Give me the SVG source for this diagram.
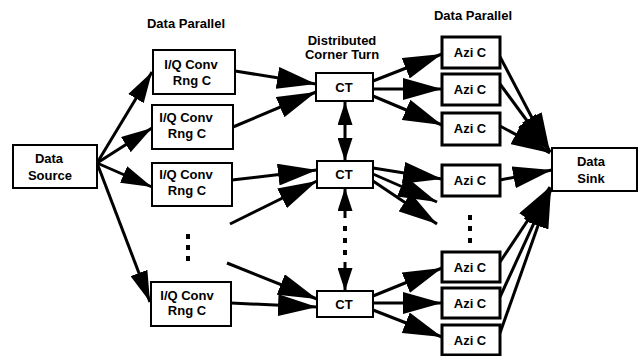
<svg xmlns="http://www.w3.org/2000/svg" width="639" height="356" viewBox="0 0 639 356">
<style>
.t{font-family:"Liberation Sans",Arial,sans-serif;font-weight:bold;font-size:13px;fill:#000;text-anchor:middle}
.b{fill:#fff;stroke:#000;stroke-width:2}
.az{fill:#fff;stroke:#000;stroke-width:3}
.c{stroke:#000;stroke-width:3;fill:none}
.cl{stroke:#000;stroke-width:3;fill:none;marker-end:url(#al)}
.cm{stroke:#000;stroke-width:3;fill:none;marker-end:url(#am)}
</style>
<defs>
<marker id="al" markerUnits="userSpaceOnUse" markerWidth="40" markerHeight="22" refX="39" refY="11" orient="auto"><path d="M0,0 L39,11 L0,22 z" fill="#000"/></marker>
<marker id="am" markerUnits="userSpaceOnUse" markerWidth="32" markerHeight="18" refX="31" refY="9" orient="auto"><path d="M0,0 L31,9 L0,18 z" fill="#000"/></marker>
<marker id="as" markerUnits="userSpaceOnUse" markerWidth="24" markerHeight="15" refX="23" refY="7.5" orient="auto-start-reverse"><path d="M0,0 L23,7.5 L0,15 z" fill="#000"/></marker>
</defs>
<rect width="639" height="356" fill="#fff"/>
<text class="t" x="186" y="28">Data Parallel</text>
<text class="t" x="342" y="45">Distributed</text>
<text class="t" x="342" y="59">Corner Turn</text>
<text class="t" x="473" y="20">Data Parallel</text>
<g id="connectors">
<line class="cm" x1="97" y1="163" x2="152" y2="72"/>
<line class="cm" x1="97" y1="163" x2="152" y2="128"/>
<line class="cm" x1="97" y1="163" x2="152" y2="187"/>
<line class="cm" x1="97" y1="163" x2="150" y2="302"/>
<line class="cl" x1="235" y1="71" x2="316" y2="84"/>
<line class="cl" x1="233" y1="127" x2="316" y2="92"/>
<line class="cl" x1="232" y1="180" x2="317" y2="170"/>
<line class="cl" x1="230" y1="224" x2="317" y2="181"/>
<line class="cl" x1="227" y1="263" x2="317" y2="299"/>
<line class="cl" x1="231" y1="303" x2="317" y2="307"/>
<line class="c" x1="345" y1="102" x2="345" y2="161" marker-start="url(#as)" marker-end="url(#as)"/>
<line class="c" x1="345" y1="188" x2="345" y2="218" marker-start="url(#as)"/>
<line class="c" x1="345" y1="262" x2="345" y2="291" marker-end="url(#as)"/>
<rect x="343" y="226" width="4" height="5" fill="#000"/>
<rect x="343" y="238" width="4" height="5" fill="#000"/>
<rect x="343" y="250" width="4" height="5" fill="#000"/>
<line class="cl" x1="373" y1="81" x2="442" y2="54"/>
<line class="cl" x1="373" y1="89" x2="442" y2="89"/>
<line class="cl" x1="373" y1="96" x2="442" y2="125"/>
<line class="cl" x1="373" y1="168" x2="442" y2="179"/>
<line class="cl" x1="373" y1="174" x2="437" y2="202"/>
<line class="cl" x1="373" y1="181" x2="437" y2="224"/>
<line class="cl" x1="373" y1="296" x2="442" y2="268"/>
<line class="cl" x1="373" y1="303" x2="442" y2="303"/>
<line class="cl" x1="373" y1="310" x2="442" y2="337"/>
<line class="cl" x1="498" y1="53" x2="550" y2="152"/>
<line class="cl" x1="500" y1="84" x2="550" y2="152"/>
<line class="cl" x1="500" y1="126" x2="550" y2="153"/>
<line class="cl" x1="500" y1="180" x2="552" y2="170"/>
<line class="cl" x1="500" y1="262" x2="550" y2="187"/>
<line class="cl" x1="500" y1="297" x2="550" y2="188"/>
<line class="cl" x1="500" y1="333" x2="551" y2="189"/>
</g>
<g id="dots-iq">
<rect x="186" y="234" width="4" height="5" fill="#000"/>
<rect x="186" y="245" width="4" height="5" fill="#000"/>
<rect x="186" y="256" width="4" height="5" fill="#000"/>
</g>
<g id="dots-azi">
<rect x="468" y="215" width="4" height="5" fill="#000"/>
<rect x="468" y="226" width="4" height="5" fill="#000"/>
<rect x="468" y="238" width="4" height="5" fill="#000"/>
</g>
<g id="source"><rect class="b" x="13" y="145" width="84" height="43"/><text class="t" x="49" y="163">Data</text><text class="t" x="50" y="180">Source</text></g>
<g id="iq1"><rect class="b" x="153" y="50" width="82" height="44"/><text class="t" x="191" y="69">I/Q Conv</text><text class="t" x="192" y="85">Rng C</text></g>
<g id="iq2"><rect class="b" x="152" y="105" width="81" height="44"/><text class="t" x="186" y="122">I/Q Conv</text><text class="t" x="187" y="138">Rng C</text></g>
<g id="iq3"><rect class="b" x="152" y="163" width="80" height="43"/><text class="t" x="186" y="179">I/Q Conv</text><text class="t" x="187" y="195">Rng C</text></g>
<g id="iq4"><rect class="b" x="151" y="282" width="80" height="44"/><text class="t" x="187" y="300">I/Q Conv</text><text class="t" x="187" y="315">Rng C</text></g>
<g id="ct1"><rect class="b" x="316" y="73" width="57" height="28"/><text class="t" x="344" y="92">CT</text></g>
<g id="ct2"><rect class="b" x="317" y="161" width="56" height="27"/><text class="t" x="344" y="179">CT</text></g>
<g id="ct3"><rect class="b" x="317" y="291" width="56" height="26"/><text class="t" x="344" y="309">CT</text></g>
<g id="azi1"><rect class="az" x="442" y="37" width="58" height="31"/><text class="t" x="470" y="57">Azi C</text></g>
<g id="azi2"><rect class="az" x="442" y="74" width="58" height="31"/><text class="t" x="470" y="94">Azi C</text></g>
<g id="azi3"><rect class="az" x="442" y="113" width="58" height="32"/><text class="t" x="470" y="133">Azi C</text></g>
<g id="azi4"><rect class="az" x="442" y="165" width="58" height="31"/><text class="t" x="470" y="185">Azi C</text></g>
<g id="azi5"><rect class="az" x="442" y="252" width="58" height="30"/><text class="t" x="470" y="272">Azi C</text></g>
<g id="azi6"><rect class="az" x="442" y="288" width="58" height="30"/><text class="t" x="470" y="308">Azi C</text></g>
<g id="azi7"><rect class="az" x="442" y="325" width="58" height="30"/><text class="t" x="470" y="345">Azi C</text></g>
<g id="sink"><rect class="b" x="552" y="148" width="85" height="43"/><text class="t" x="591" y="166">Data</text><text class="t" x="591" y="183">Sink</text></g>
</svg>
